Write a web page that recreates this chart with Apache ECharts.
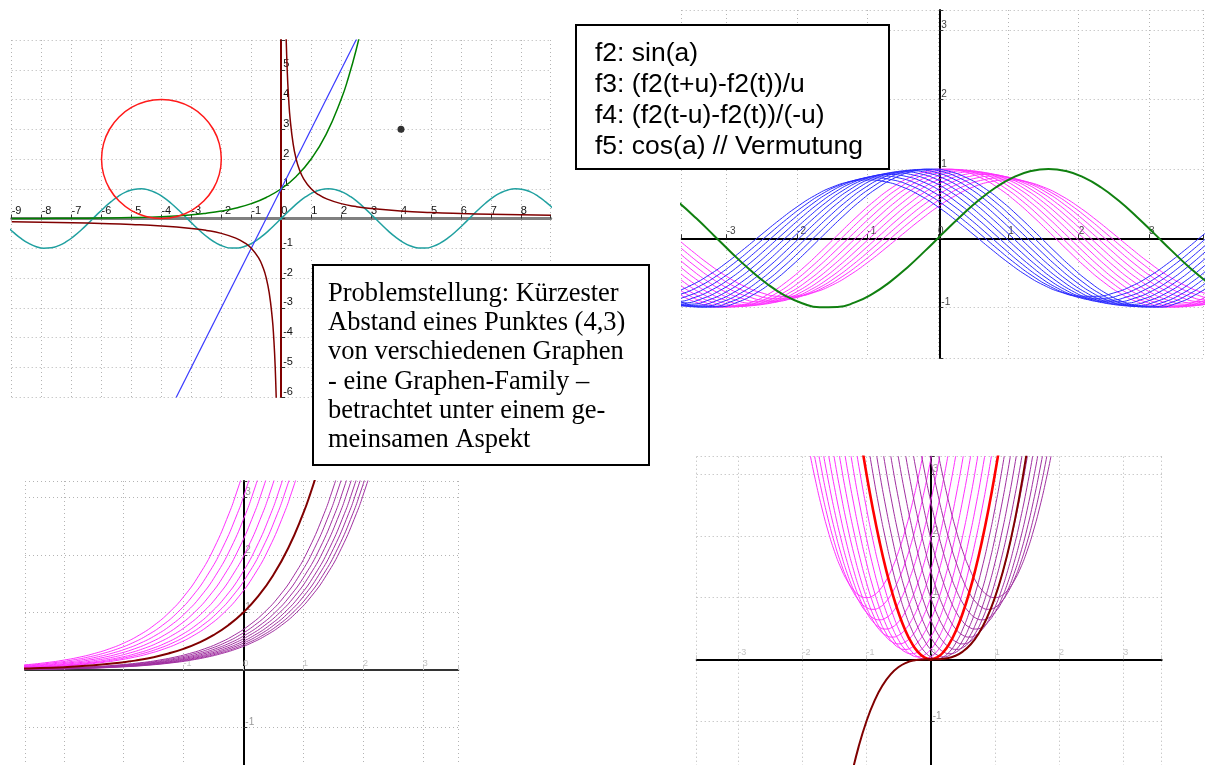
<!DOCTYPE html>
<html>
<head>
<meta charset="utf-8">
<script src="https://cdn.jsdelivr.net/npm/echarts@6/dist/echarts.min.js"></script>
<style>
  html, body { margin: 0; padding: 0; background: #fff; }
  #main { width: 1206px; height: 765px; }
</style>
</head>
<body>
<div id="main"></div>
<script>
// ---- values ----
// cosine wave, sampled every 0.25
const waveX = [-11,-10.75,-10.5,-10.25,-10,-9.75,-9.5,-9.25,-9,-8.75,-8.5,-8.25,-8,-7.75,-7.5,-7.25,-7,-6.75,-6.5,-6.25,-6,-5.75,-5.5,-5.25,-5,-4.75,-4.5,-4.25,-4,-3.75,-3.5,-3.25,-3,-2.75,-2.5,-2.25,-2,-1.75,-1.5,-1.25,-1,-0.75,-0.5,-0.25,0,0.25,0.5,0.75,1,1.25,1.5,1.75,2,2.25,2.5,2.75,3,3.25,3.5,3.75,4,4.25,4.5,4.75,5,5.25,5.5,5.75,6,6.25,6.5,6.75,7,7.25,7.5,7.75,8,8.25,8.5,8.75,9,9.25,9.5,9.75,10,10.25,10.5,10.75,11];
const cosY = [0.004,-0.243,-0.476,-0.678,-0.839,-0.948,-0.997,-0.985,-0.911,-0.781,-0.602,-0.386,-0.146,0.104,0.347,0.568,0.754,0.893,0.977,0.999,0.960,0.861,0.709,0.512,0.284,0.038,-0.211,-0.446,-0.654,-0.821,-0.936,-0.994,-0.990,-0.924,-0.801,-0.628,-0.416,-0.178,0.071,0.315,0.540,0.732,0.878,0.969,1.000,0.969,0.878,0.732,0.540,0.315,0.071,-0.178,-0.416,-0.628,-0.801,-0.924,-0.990,-0.994,-0.936,-0.821,-0.654,-0.446,-0.211,0.038,0.284,0.512,0.709,0.861,0.960,0.999,0.977,0.893,0.754,0.568,0.347,0.104,-0.146,-0.386,-0.602,-0.781,-0.911,-0.985,-0.997,-0.948,-0.839,-0.678,-0.476,-0.243,0.004];
const sinPhase = 1.571;

// top left: 2^x, 1/x, y=2x+1, circle, point (4,3)
const pow2X = [-9,-8,-7,-6,-5,-4,-3,-2.5,-2,-1.5,-1,-0.5,0,0.5,1,1.5,2,2.25,2.5,2.75];
const pow2Y = [0.002,0.004,0.008,0.016,0.031,0.063,0.125,0.177,0.25,0.354,0.5,0.707,1,1.414,2,2.828,4,4.757,5.657,6.727];
const hypX = [0.15,0.2,0.25,0.3,0.4,0.5,0.6,0.75,1,1.25,1.5,2,2.5,3,4,5,6,7,8,9];
const hypY = [6.667,5,4,3.333,2.5,2,1.667,1.333,1,0.8,0.667,0.5,0.4,0.333,0.25,0.2,0.167,0.143,0.125,0.111];
const hypNegX = [-9,-8,-7,-6,-5,-4,-3,-2.5,-2,-1.5,-1.25,-1,-0.75,-0.6,-0.5,-0.4,-0.3,-0.25,-0.2,-0.15];
const hypNegY = [-0.111,-0.125,-0.143,-0.167,-0.2,-0.25,-0.333,-0.4,-0.5,-0.667,-0.8,-1,-1.333,-1.667,-2,-2.5,-3.333,-4,-5,-6.667];
const lineX = [-3.6, 2.6];
const lineY = [-6.2, 6.2];
const circleX = [-2,-2.068,-2.268,-2.586,-3,-3.482,-4,-4.518,-5,-5.414,-5.732,-5.932,-6,-5.932,-5.732,-5.414,-5,-4.518,-4,-3.482,-3,-2.586,-2.268,-2.068,-2];
const circleY = [2,2.518,3,3.414,3.732,3.932,4,3.932,3.732,3.414,3,2.518,2,1.482,1,0.586,0.268,0.068,0,0.068,0.268,0.586,1,1.482,2];
const pointXY = [4, 3];

// top right: difference quotients of sin
const quotShift = [0.1,0.2,0.3,0.4,0.5,0.6,0.7,0.8,0.9,1.0];
const quotAmp = [0.998,0.993,0.985,0.974,0.959,0.941,0.920,0.897,0.870,0.841];

// bottom left: e^x family
const expX = [-5,-4.5,-4,-3.5,-3,-2.5,-2,-1.75,-1.5,-1.25,-1,-0.75,-0.5,-0.25,0,0.25,0.5,0.75,1,1.125,1.25,1.375,1.5];
const expY = [0.007,0.011,0.018,0.030,0.050,0.082,0.135,0.174,0.223,0.287,0.368,0.472,0.607,0.779,1,1.284,1.649,2.117,2.718,3.080,3.490,3.955,4.482];
const expLeftShift = [0.32,0.43,0.54,0.68,0.82,0.96,1.10,1.24];
const expRightShift = [0.35,0.44,0.53,0.61,0.69,0.76,0.83,0.89];

// bottom right: x^3 and its difference quotients
const paraX = [-1.1,-1,-0.9,-0.8,-0.7,-0.6,-0.5,-0.4,-0.3,-0.2,-0.1,0,0.1,0.2,0.3,0.4,0.5,0.6,0.7,0.8,0.9,1,1.1];
const paraY = [3.63,3,2.43,1.92,1.47,1.08,0.75,0.48,0.27,0.12,0.03,0,0.03,0.12,0.27,0.48,0.75,1.08,1.47,1.92,2.43,3,3.63];
const cubeX = [-1.25,-1.125,-1,-0.875,-0.75,-0.625,-0.5,-0.375,-0.25,-0.125,0,0.125,0.25,0.375,0.5,0.625,0.75,0.875,1,1.125,1.25,1.375,1.5];
const cubeY = [-1.953,-1.424,-1,-0.670,-0.422,-0.244,-0.125,-0.053,-0.016,-0.002,0,0.002,0.016,0.053,0.125,0.244,0.422,0.670,1,1.424,1.953,2.600,3.375];
const vertexX = [0.1,0.2,0.3,0.4,0.5,0.6,0.7,0.8,0.9,1.0];
const vertexY = [0.01,0.04,0.09,0.16,0.25,0.36,0.49,0.64,0.81,1.0];

const noteLines = ['f2: sin(a)', 'f3: (f2(t+u)-f2(t))/u', 'f4: (f2(t-u)-f2(t))/(-u)', 'f5: cos(a) // Vermutung'];
const problemLines = ['Problemstellung: Kürzester', 'Abstand eines Punktes (4,3)', 'von verschiedenen Graphen', '- eine Graphen-Family –', 'betrachtet unter einem ge-', 'meinsamen Aspekt'];

// ---- chart ----
var chart = echarts.init(document.getElementById('main'));

function pts(xs, ys, dx, dy, k) {
  return xs.map((x, i) => [x + (dx || 0), ys[i] * (k == null ? 1 : k) + (dy || 0)]);
}

var series = [];
function addLine(g, data, color, width, smooth, z) {
  series.push({
    type: 'line', xAxisIndex: g, yAxisIndex: g, data: data,
    showSymbol: false, smooth: smooth === false ? false : true,
    lineStyle: { color: color, width: width }, z: z || 2, silent: true,
  });
}

function intLabel(hide) {
  return function (v) {
    if (!Number.isInteger(v) || hide.indexOf(v) >= 0) return '';
    return String(v);
  };
}

var grids = [
  { left: 11.7, top: 40, width: 539, height: 357 },
  { left: 681.7, top: 10, width: 524.3, height: 348 },
  { left: 25, top: 481, width: 433.3, height: 284 },
  { left: 696.7, top: 456.7, width: 465, height: 308.3 },
];

// axes sit on the zero lines: push them inwards from the grid edge
function axis(g, dim, min, max, split, lineColor, lineWidth, label) {
  var size = dim === 'x' ? grids[g].height : grids[g].width;
  var other = dim === 'x' ? yRange[g] : xRange[g];
  var offset = -size * (0 - other[0]) / (other[1] - other[0]);
  return {
    type: 'value', gridIndex: g, min: min, max: max, splitNumber: split,
    offset: offset,
    axisLine: { onZero: false, lineStyle: { color: lineColor, width: lineWidth } },
    axisTick: { show: true, inside: true, length: 4, lineStyle: { color: label.tickColor || '#333' } },
    axisLabel: {
      inside: true, margin: 2, fontSize: label.size, color: label.color,
      fontFamily: 'Liberation Sans', formatter: intLabel(label.hide),
      align: 'left', verticalAlign: 'bottom', showMinLabel: true, showMaxLabel: true,
    },
    splitLine: { show: true, lineStyle: { color: '#b4b4b4', type: [1, 3], width: 1 } },
  };
}

var xRange = [[-9, 9], [-3.64, 3.767], [-3.649, 3.594], [-3.647, 3.6]];
var yRange = [[-6, 6], [-1.725, 3.29], [-1.652, 3.287], [-1.714, 3.285]];

var xAxes = [
  axis(0, 'x', xRange[0][0], xRange[0][1], 18, '#808080', 3, { size: 11, color: '#111', hide: [9] }),
  axis(1, 'x', xRange[1][0], xRange[1][1], 7, '#000', 2, { size: 10, color: '#444', hide: [] }),
  axis(2, 'x', xRange[2][0], xRange[2][1], 7, '#333', 2, { size: 9, color: '#c4c4c4', hide: [], tickColor: '#ccc' }),
  axis(3, 'x', xRange[3][0], xRange[3][1], 7, '#000', 2, { size: 9, color: '#c4c4c4', hide: [], tickColor: '#ccc' }),
];
var yAxes = [
  axis(0, 'y', yRange[0][0], yRange[0][1], 12, '#800000', 2, { size: 11, color: '#111', hide: [0, 6] }),
  axis(1, 'y', yRange[1][0], yRange[1][1], 5, '#000', 2, { size: 10, color: '#444', hide: [0] }),
  axis(2, 'y', yRange[2][0], yRange[2][1], 5, '#000', 2, { size: 10, color: '#999', hide: [0] }),
  axis(3, 'y', yRange[3][0], yRange[3][1], 5, '#000', 2, { size: 10, color: '#999', hide: [0] }),
];

// panel 1
addLine(0, pts(waveX, cosY, sinPhase), '#20a0a0', 1.5);
addLine(0, pts(pow2X, pow2Y), '#008000', 1.5);
addLine(0, pts(lineX, lineY), '#3a3aff', 1.2, false);
addLine(0, pts(hypX, hypY), '#800000', 1.5);
addLine(0, pts(hypNegX, hypNegY), '#800000', 1.5);
addLine(0, pts(circleX, circleY), '#ff1a1a', 1.5);
series.push({
  type: 'scatter', xAxisIndex: 0, yAxisIndex: 0, data: [pointXY],
  symbolSize: 7, itemStyle: { color: '#000' }, z: 5, silent: true,
});

// panel 2
quotShift.forEach((s, i) => addLine(1, pts(waveX, cosY, s, 0, quotAmp[i]), '#ff30ff', 1));
quotShift.forEach((s, i) => addLine(1, pts(waveX, cosY, -s, 0, quotAmp[i]), '#2a2aff', 1));
addLine(1, pts(waveX, cosY, sinPhase), '#108010', 2, true, 4);

// panel 3
expLeftShift.forEach((s) => addLine(2, pts(expX, expY, -s), '#ff30ff', 1));
expRightShift.forEach((s) => addLine(2, pts(expX, expY, s), '#a030a0', 1));
addLine(2, pts(expX, expY), '#800000', 2, true, 4);

// panel 4
vertexX.forEach((h, i) => addLine(3, pts(paraX, paraY, -h, vertexY[i]), '#ff30ff', 1));
vertexX.forEach((h, i) => addLine(3, pts(paraX, paraY, h, vertexY[i]), '#a030a0', 1));
addLine(3, pts(paraX, paraY), '#ff0000', 2.6, true, 4);
addLine(3, pts(cubeX, cubeY), '#800000', 2, true, 4);

chart.setOption({
  animation: false,
  backgroundColor: '#fff',
  grid: grids,
  xAxis: xAxes,
  yAxis: yAxes,
  series: series,
  graphic: [
    { type: 'rect', z: 100, shape: { x: 576, y: 25, width: 313, height: 144 },
      style: { fill: '#fff', stroke: '#000', lineWidth: 2 } },
    { type: 'text', z: 101, x: 595, y: 38,
      style: { text: noteLines.join('\n'), fontSize: 26.5, fontFamily: 'Liberation Sans',
               lineHeight: 31, fill: '#000', verticalAlign: 'top' } },
    { type: 'rect', z: 100, shape: { x: 313, y: 265, width: 336, height: 200 },
      style: { fill: '#fff', stroke: '#000', lineWidth: 2 } },
    { type: 'text', z: 101, x: 328, y: 279,
      style: { text: problemLines.join('\n'), fontSize: 26.5, fontFamily: 'Liberation Serif',
               lineHeight: 29.3, fill: '#000', verticalAlign: 'top' } },
  ],
});
</script>
</body>
</html>
